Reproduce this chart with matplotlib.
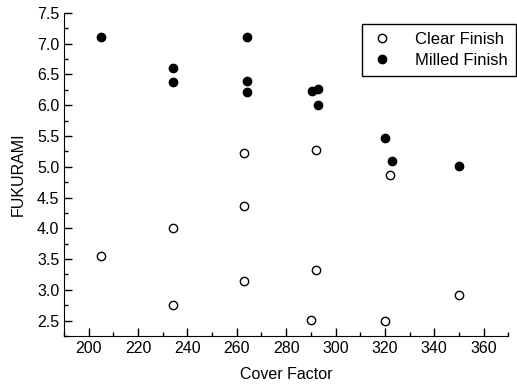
import matplotlib
matplotlib.use("Agg")
from matplotlib import pyplot as plt
from matplotlib.ticker import MultipleLocator

plt.rcParams['font.family'] = ['Liberation Sans', 'DejaVu Sans']

CLEAR_X = [205, 234, 234, 263, 263, 263, 292, 292, 290, 320, 322, 350]
CLEAR_Y = [3.55, 4.0, 2.76, 5.22, 4.36, 3.15, 5.28, 3.32, 2.51, 2.5, 4.87, 2.92]

MILLED_X = [205, 234, 234, 264, 264, 264, 290.5, 293, 293, 320, 323, 350]
MILLED_Y = [7.11, 6.6, 6.37, 7.11, 6.39, 6.21, 6.23, 6.26, 6.0, 5.46, 5.09, 5.02]

X_LABEL = "Cover Factor"
Y_LABEL = "FUKURAMI"
LEGEND = ["Clear Finish", "Milled Finish"]

fig = plt.figure(figsize=(5.17, 3.92), dpi=100)
ax = fig.add_axes([0.124, 0.143, 0.859, 0.824])

ax.plot(CLEAR_X, CLEAR_Y, linestyle="none", marker="o", markersize=6,
        markerfacecolor="white", markeredgecolor="black", markeredgewidth=1,
        label=LEGEND[0])
ax.plot(MILLED_X, MILLED_Y, linestyle="none", marker="o", markersize=6,
        markerfacecolor="black", markeredgecolor="black", label=LEGEND[1])

ax.set_xlim(190, 370)
ax.set_ylim(2.25, 7.5)
ax.set_xticks([200, 220, 240, 260, 280, 300, 320, 340, 360])
ax.xaxis.set_minor_locator(MultipleLocator(10))
ax.yaxis.set_major_locator(MultipleLocator(0.5))
ax.yaxis.set_minor_locator(MultipleLocator(0.25))
ax.xaxis.set_major_formatter(lambda v, p: f"{v:.0f}")
ax.yaxis.set_major_formatter(lambda v, p: f"{v:.1f}")

for side in ("top", "right"):
    ax.spines[side].set_visible(False)
ax.tick_params(which="major", direction="in", length=6, width=1, labelsize=11.5)
ax.tick_params(which="minor", direction="in", length=3, width=1)

ax.set_xlabel(X_LABEL, fontsize=11.5, labelpad=8)
ax.set_ylabel(Y_LABEL, fontsize=11.5, labelpad=8)

ax.legend(loc="upper right", bbox_to_anchor=(0.998, 0.939),
          bbox_transform=fig.transFigure, borderaxespad=0, fancybox=False,
          edgecolor="black", framealpha=1, fontsize=12, handlelength=1.5,
          handletextpad=1.2, borderpad=0.5, labelspacing=0.35)

fig.savefig("out.png")
